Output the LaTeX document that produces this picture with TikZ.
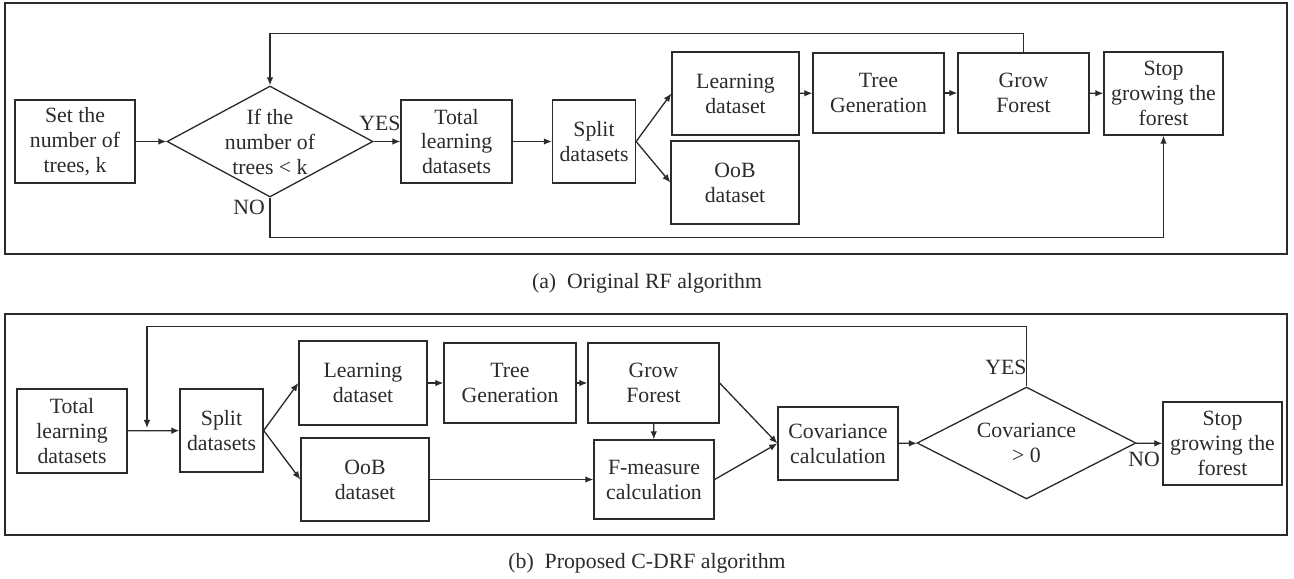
\documentclass[tikz,border=0pt]{standalone}
\usepackage{fontspec}
\setmainfont{Liberation Serif}
\usetikzlibrary{arrows.meta, shapes.geometric, positioning}
\definecolor{inkgray}{HTML}{2B2B2B}

\begin{document}
\begin{tikzpicture}[x=0.02cm, y=-0.02cm, >={Latex[length=4.6pt,width=3.8pt]},
    every node/.style={font=\fontsize{12.4}{14.2}\selectfont, text=inkgray},
    box/.style={draw=inkgray, line width=0.75pt, rectangle, align=center, inner sep=2pt},
    decision/.style={draw=inkgray, line width=0.75pt, diamond, inner sep=0pt},
    flow/.style={->, line width=0.75pt, draw=inkgray},
    frame/.style={draw=inkgray, line width=0.9pt}]
  \useasboundingbox (0,0) rectangle (1294,578);

  % Frames
  \draw[frame] (5,3) rectangle (1287,254);
  \draw[frame] (5,314) rectangle (1287,535);

  % (a) Original RF
  \node[box, minimum width=2.40cm, minimum height=1.66cm] (setk) at (75,141.5) {Set the\\number of\\trees, k};
  \node[decision, minimum width=4.12cm, minimum height=2.22cm] (cond) at (270,141.5) {};
  \node[align=center] (condtxt) at (cond) {If the\\number of\\trees < k};
  \node[box, minimum width=2.22cm, minimum height=1.66cm] (totala) at (456.5,141.5) {Total\\learning\\datasets};
  \node[box, minimum width=1.66cm, minimum height=1.66cm] (splita) at (594,141.5) {Split\\datasets};
  \node[box, minimum width=2.54cm, minimum height=1.66cm] (learna) at (735.5,93.5) {Learning\\dataset};
  \node[box, minimum width=2.56cm, minimum height=1.66cm] (ooba) at (735,182.5) {OoB\\dataset};
  \node[box, minimum width=2.62cm, minimum height=1.60cm] (treea) at (878.5,93) {Tree\\Generation};
  \node[box, minimum width=2.62cm, minimum height=1.60cm] (growa) at (1023.5,93) {Grow\\Forest};
  \node[box, minimum width=2.38cm, minimum height=1.66cm] (stopa) at (1163.5,93.5) {Stop\\growing the\\forest};
  \node (yesa) at (380,123) {YES};
  \node (noa) at (249,207) {NO};

  \draw[flow] (setk) -- (cond);
  \draw[flow] (cond) -- (totala);
  \draw[flow] (totala) -- (splita);
  \draw[flow] (splita.east) -- (learna.west);
  \draw[flow] (splita.east) -- (ooba.west);
  \draw[flow] (learna) -- (treea);
  \draw[flow] (treea) -- (growa);
  \draw[flow] (growa) -- (stopa);
  % loop back
  \draw[flow] (growa.north) -- ++(0,-19) -| (cond.north);
  \draw[flow] (cond.south) -- ++(0,40) -| (stopa.south);

  \node (capa) at (647,283) {(a)\enspace Original RF algorithm};

  % (b) Proposed C-DRF
  \node[box, minimum width=2.20cm, minimum height=1.68cm] (totalb) at (72,431) {Total\\learning\\datasets};
  \node[box, minimum width=1.66cm, minimum height=1.66cm] (splitb) at (221.5,430.5) {Split\\datasets};
  \node[box, minimum width=2.56cm, minimum height=1.68cm] (learnb) at (363,383) {Learning\\dataset};
  \node[box, minimum width=2.56cm, minimum height=1.66cm] (oobb) at (365,479.5) {OoB\\dataset};
  \node[box, minimum width=2.64cm, minimum height=1.60cm] (treeb) at (510,383) {Tree\\Generation};
  \node[box, minimum width=2.62cm, minimum height=1.60cm] (growb) at (653.5,383) {Grow\\Forest};
  \node[box, minimum width=2.40cm, minimum height=1.58cm] (fmeas) at (654,479.5) {F-measure\\calculation};
  \node[box, minimum width=2.40cm, minimum height=1.46cm] (covcalc) at (838,443.5) {Covariance\\calculation};
  \node[decision, minimum width=4.38cm, minimum height=2.24cm] (covdec) at (1026.5,443) {};
  \node[align=center] (covtxt) at (covdec) {Covariance\\> 0};
  \node[box, minimum width=2.38cm, minimum height=1.66cm] (stopb) at (1222.5,443.5) {Stop\\growing the\\forest};
  \node (yesb) at (1006,367) {YES};
  \node (nob) at (1144,459) {NO};
  \coordinate (fbin) at (147,428);

  \draw[flow] (totalb) -- (splitb);
  \draw[flow] (splitb.east) -- (learnb.west);
  \draw[flow] (splitb.east) -- (oobb.west);
  \draw[flow] (learnb) -- (treeb);
  \draw[flow] (treeb) -- (growb);
  \draw[flow] (growb) -- (fmeas);
  \draw[flow] (oobb) -- (fmeas);
  \draw[flow] (growb.east) -- (covcalc.west);
  \draw[flow] (fmeas.east) -- (covcalc.west);
  \draw[flow] (covcalc) -- (covdec);
  \draw[flow] (covdec) -- (stopb);
  % loop back
  \draw[flow] (covdec.north) -- ++(0,-60) -| (fbin);

  \node (capb) at (647,563) {(b)\enspace Proposed C-DRF algorithm};
\end{tikzpicture}
\end{document}
